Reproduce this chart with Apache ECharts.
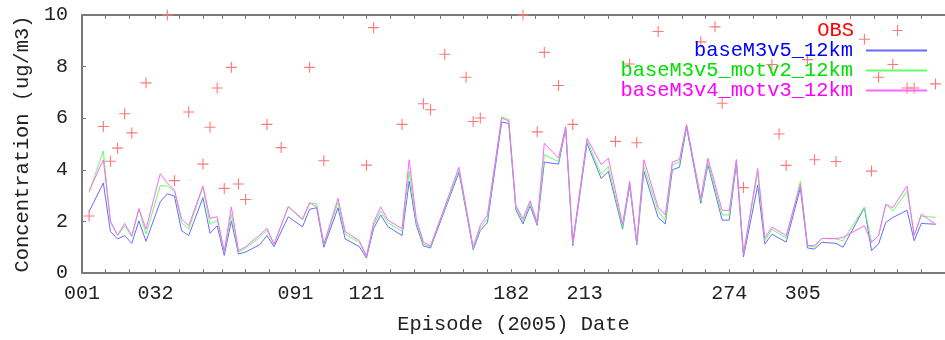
<!DOCTYPE html>
<html><head><meta charset="utf-8">
<script src="https://cdn.jsdelivr.net/npm/echarts@6/dist/echarts.min.js"></script>
<style>html,body{margin:0;padding:0;background:#fff}#c{width:945px;height:340px}</style>
</head><body><div id="c"></div>
<script>
// sample days (day of year 2005)
const days = [
  4, 10, 13, 16, 19, 22, 25, 28, 34, 37,
  40, 43, 46, 52, 55, 58, 61, 64, 67, 70,
  76, 79, 82, 85, 88, 94, 97, 100, 103, 109,
  112, 118, 121, 124, 127, 130, 136, 139, 142, 145,
  148, 154, 160, 163, 166, 169, 172, 178, 181, 184,
  187, 190, 193, 196, 202, 205, 208, 214, 220, 223,
  226, 229, 232, 235, 238, 244, 247, 250, 253, 256,
  262, 265, 268, 271, 274, 277, 280, 286, 289, 292,
  295, 298, 304, 307, 310, 313, 319, 322, 331, 334,
  337, 340, 343, 349, 352, 355, 361
];
const obs = [
  2.21, 5.68, 4.33, 4.84, 6.17, 5.43, null, 7.37, null, 10.0,
  3.58, null, 6.24, 4.22, 5.65, 7.17, 3.28, 7.97, 3.45, 2.85,
  null, 5.76, null, 4.86, null, null, 7.97, null, 4.35, null,
  null, null, 4.18, 9.51, null, null, 5.76, null, null, 6.56,
  6.33, 8.48, null, 7.59, 5.87, 6.01, null, null, null, null,
  10.0, null, 5.47, 8.55, 7.27, null, 5.76, null, null, null,
  5.10, null, 8.10, 5.05, null, 9.36, null, null, null, null,
  8.96, null, 9.54, 6.58, null, null, 3.31, null, null, 8.08,
  5.39, 4.17, null, 8.27, 4.39, null, 4.32, null, 9.06, 3.95,
  7.59, null, 8.08, 7.17, 7.17, null, 7.33
];
const baseM3v5_12km = [
  2.38, 3.49, 1.61, 1.32, 1.45, 1.15, 2.02, 1.23, 2.76, 3.07,
  2.98, 1.64, 1.45, 2.92, 1.54, 1.83, 0.68, 2.02, 0.74, 0.81,
  1.10, 1.45, 1.02, null, 2.18, 1.79, 2.47, 2.53, 1.00, 2.53,
  1.32, 1.02, 0.58, 1.72, 2.25, 1.80, 1.45, 3.56, 1.85, 1.05,
  0.97, null, 3.90, null, 0.90, 1.65, 1.95, 5.85, 5.80, 2.45,
  1.90, 2.60, 1.85, 4.30, 4.22, 5.60, 1.06, 5.03, 3.66, 3.94,
  null, 1.70, 3.40, 1.10, 3.94, 2.15, 1.90, 4.00, 4.10, 5.65,
  2.70, 4.20, null, 2.05, 2.05, 4.25, 0.62, 3.40, 1.12, 1.50,
  null, 1.20, 3.30, 0.97, 0.93, 1.19, 1.15, 1.00, 2.53, 0.87,
  1.13, 1.96, 2.15, 2.43, 1.25, 1.92, 1.89
];
const baseM3v5_motv2_12km = [
  3.13, 4.73, 1.96, 1.45, 1.83, 1.41, 2.47, 1.51, 3.39, 3.37,
  3.17, 1.96, 1.70, 3.33, 1.89, 2.05, 0.81, 2.28, 0.81, 0.97,
  1.38, 1.66, 1.10, null, 2.56, 2.06, 2.69, 2.69, 1.10, 2.73,
  1.51, 1.19, 0.64, 1.85, 2.41, 1.95, 1.62, 3.94, 2.00, 1.12,
  1.02, null, 4.00, null, 0.95, 1.75, 2.10, 6.05, 5.95, 2.55,
  2.00, 2.70, 1.90, 4.58, 4.32, 5.67, 1.13, 5.16, 3.81, 4.13,
  null, 1.77, 3.50, 1.15, 4.13, 2.40, 2.05, 4.20, 4.30, 5.75,
  2.80, 4.30, null, 2.25, 2.25, 4.35, 0.72, 3.90, 1.25, 1.70,
  null, 1.35, 3.56, 1.06, 1.00, 1.34, 1.32, 1.25, 2.56, 1.19,
  1.45, 2.66, 2.40, 3.17, 1.45, 2.21, 2.15
];
const baseM3v4_motv3_12km = [
  3.18, 4.39, 2.02, 1.47, 1.92, 1.45, 2.50, 1.70, 3.85, 3.49,
  3.21, 2.09, 1.83, 3.37, 2.12, 2.18, 0.84, 2.56, 0.87, 1.02,
  1.47, 1.73, 1.12, null, 2.58, 2.09, 2.73, 2.56, 1.12, 2.89,
  1.61, 1.25, 0.66, 1.95, 2.56, 2.05, 1.72, 4.39, 2.10, 1.20,
  1.05, null, 4.10, null, 1.00, 1.85, 2.25, 6.00, 5.90, 2.62,
  2.10, 2.80, 1.95, 5.03, 4.45, 5.67, 1.19, 5.22, 4.20, 4.45,
  null, 1.89, 3.56, 1.19, 4.39, 2.55, 2.25, 4.30, 4.40, 5.75,
  2.90, 4.45, null, 2.43, 2.43, 4.40, 0.75, 4.05, 1.35, 1.78,
  null, 1.45, 3.43, 1.06, 1.06, 1.34, 1.34, 1.38, 1.83, 1.19,
  1.45, 2.66, 2.53, 3.37, 1.45, 2.28, 1.89
];
const labelDays = [1, 32, 91, 121, 182, 213, 274, 305];
const tickLabels = ['001', '032', '091', '121', '182', '213', '274', '305'];
const tickDays = [1,11,21,32,42,52,60,70,80,91,101,111,121,131,141,152,162,172,
  182,192,202,213,223,233,244,254,264,274,284,294,305,315,325,335,345,355];

const FONT = 'Liberation Mono';
const FS = 20.4;
const axisCats = [];
for (let d = 1; d <= 365; d++) axisCats.push(String(d));
const isTick = (i, v) => tickDays.indexOf(+v) >= 0;
const isLab = (i, v) => labelDays.indexOf(+v) >= 0;
const pairs = arr => days.map((d, i) => [d, arr[i]]);
const plusPath = 'path://M0,4.5L10,4.5L10,5.5L0,5.5ZM4.5,0L5.5,0L5.5,10L4.5,10Z';
const plusLegend = 'path://M0,5L0.01,5L0.01,5.01L0,5.01ZM61,5L60.99,5L60.99,5.01L61,5.01ZM25.5,5L35.5,5L35.5,6L25.5,6ZM30,0L31,0L31,11L30,11Z';
const axisColor = '#7a7a7a';

const names = ['OBS', 'baseM3v5_12km', 'baseM3v5_motv2_12km', 'baseM3v4_motv3_12km'];
const textColors = ['#ff0000', '#0000ff', '#00e000', '#ff00ff'];
const lineColors = ['#ff7878', '#6a6aff', '#66ff66', '#ff66ff'];
const legendTops = [20.5, 40.5, 60.5, 80.5];

const chart = echarts.init(document.getElementById('c'), null, {renderer: 'canvas'});
chart.setOption({
  animation: false,
  backgroundColor: '#ffffff',
  grid: {left: 82, width: 869, top: 15, bottom: 64},
  xAxis: [
    {type: 'value', min: 1, max: 365, show: false},
    {type: 'category', data: axisCats, boundaryGap: false, position: 'bottom',
     name: 'Episode (2005) Date', nameLocation: 'middle', nameGap: 42,
     nameTextStyle: {fontFamily: FONT, fontSize: FS, color: '#222'},
     axisLine: {show: true, lineStyle: {color: axisColor, width: 2}},
     axisTick: {show: true, inside: true, length: 4, interval: isTick, lineStyle: {color: axisColor}},
     axisLabel: {show: true, interval: isLab, margin: 11, fontFamily: FONT, fontSize: 20, color: '#222',
       formatter: v => { const k = labelDays.indexOf(+v); return k >= 0 ? tickLabels[k] : ''; }},
     splitLine: {show: false}},
    {type: 'category', data: axisCats, boundaryGap: false, position: 'top',
     axisLine: {show: true, lineStyle: {color: axisColor, width: 2}},
     axisTick: {show: true, inside: true, length: 4, interval: isTick, lineStyle: {color: axisColor}},
     axisLabel: {show: false}, splitLine: {show: false}}
  ],
  yAxis: [
    {type: 'value', min: 0, max: 10, interval: 2,
     name: 'Concentration (ug/m3)', nameLocation: 'middle', nameGap: 46,
     nameTextStyle: {fontFamily: FONT, fontSize: FS, color: '#222'},
     axisLine: {show: true, lineStyle: {color: axisColor, width: 2}},
     axisTick: {show: true, inside: true, length: 4, lineStyle: {color: axisColor}},
     axisLabel: {margin: 14, fontFamily: FONT, fontSize: 20, color: '#222'},
     splitLine: {show: false}}
  ],
  legend: names.map((n, k) => ({
    data: [k === 0 ? {name: n, icon: plusLegend} : {name: n}],
    right: 17, top: legendTops[k], padding: 0, itemWidth: 61, itemHeight: 11,
    align: 'right', selectedMode: false,
    itemStyle: k === 0 ? {} : {opacity: 0},
    textStyle: {fontFamily: FONT, fontSize: FS, color: textColors[k], padding: [0, 8, 0, 0]}
  })),
  series: [
    {name: 'OBS', type: 'scatter', xAxisIndex: 0, yAxisIndex: 0, clip: false,
     data: days.map((d, i) => [d, obs[i]]).filter(p => p[1] !== null),
     symbol: plusPath, symbolSize: 11, itemStyle: {color: lineColors[0], opacity: 1}, z: 2},
    {name: 'baseM3v5_12km', type: 'line', xAxisIndex: 0, yAxisIndex: 0, data: pairs(baseM3v5_12km),
     connectNulls: true, symbol: 'none', lineStyle: {color: lineColors[1], width: 1}, itemStyle: {color: lineColors[1]}, z: 3},
    {name: 'baseM3v5_motv2_12km', type: 'line', xAxisIndex: 0, yAxisIndex: 0, data: pairs(baseM3v5_motv2_12km),
     connectNulls: true, symbol: 'none', lineStyle: {color: lineColors[2], width: 1}, itemStyle: {color: lineColors[2]}, z: 4},
    {name: 'baseM3v4_motv3_12km', type: 'line', xAxisIndex: 0, yAxisIndex: 0, data: pairs(baseM3v4_motv3_12km),
     connectNulls: true, symbol: 'none', lineStyle: {color: lineColors[3], width: 1}, itemStyle: {color: lineColors[3]}, z: 5}
  ]
});
</script>
</body></html>
